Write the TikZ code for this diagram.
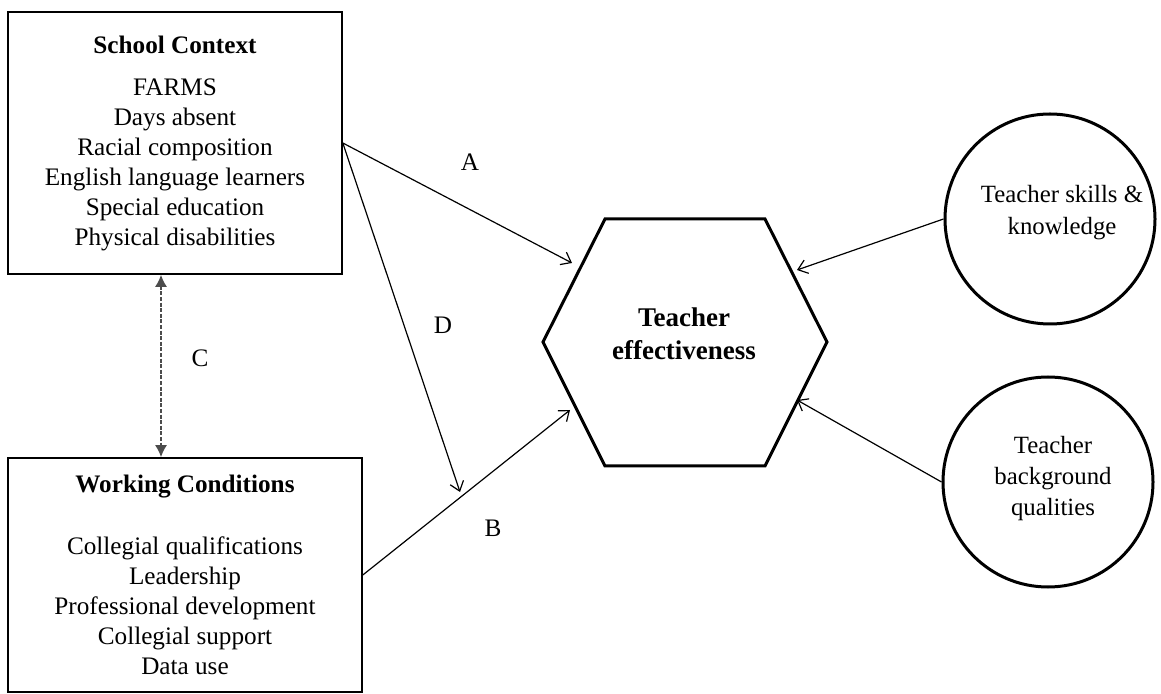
\documentclass[tikz,border=0pt]{standalone}
\usepackage{fontspec}
\setmainfont{Liberation Serif}
\usetikzlibrary{arrows.meta}

\begin{document}
\begin{tikzpicture}[x=0.5pt,y=-0.5pt,
  every node/.style={font=\fontsize{12.6}{15}\selectfont},
  box/.style={draw,line width=0.8pt,align=center,inner sep=0pt},
  circ/.style={draw,circle,line width=1.5pt,minimum size=105pt,inner sep=0pt},
  arr/.style={-{Straight Barb[length=4.5pt,width=7pt]},line width=0.6pt}]
  \useasboundingbox (0,0) rectangle (1161,694);

  % left boxes
  \node[box,minimum width=167pt,minimum height=131pt] (school) at (175,143)
    {\textbf{School Context}\\[6pt]FARMS\\Days absent\\Racial composition\\
     English language learners\\Special education\\Physical disabilities};
  \node[box,minimum width=177pt,minimum height=117pt] (work) at (185,575)
    {\textbf{Working Conditions}\\[16pt]Collegial qualifications\\Leadership\\
     Professional development\\Collegial support\\Data use};

  % hexagon
  \draw[line width=1.5pt,line join=miter] (543,342) -- (605,219) -- (765,219)
    -- (827,342) -- (765,466) -- (605,466) -- cycle;
  \node[align=center,font=\fontsize{13.5}{16.5}\selectfont\bfseries] (te) at (684,334)
    {Teacher\\effectiveness};
  \coordinate (tA) at (572,263);
  \coordinate (tB) at (570,410);
  \coordinate (tD) at (460,492);
  \coordinate (tS) at (797,270);
  \coordinate (tQ) at (797,400);

  % circles
  \node[circ] (skills) at (1050,219) {};
  \node[align=center,font=\fontsize{12.4}{16}\selectfont] (skillstxt) at (1062,213)
    {Teacher skills \&\\knowledge};
  \node[circ] (bg) at (1048,482) {};
  \node[align=center,font=\fontsize{12.4}{15.5}\selectfont] (bgtxt) at (1053,479)
    {Teacher\\background\\qualities};

  % connectors
  \draw[arr] (school.east) -- (tA);
  \draw[arr] (school.east) -- (tD);
  \draw[arr] (work.east) -- (tB);
  \draw[arr] (skills.west) -- (tS);
  \draw[arr] (bg.west) -- (tQ);
  \coordinate (cx) at (161,0);
  \draw[{Latex[length=6pt,width=6pt]}-{Latex[length=6pt,width=6pt]},
    black!70,line width=0.9pt,dash pattern=on 2pt off 0.8pt]
    (school.south -| cx) -- (work.north -| cx);

  \node (la) at (470,162) {A};
  \node (lb) at (493,528) {B};
  \node (lc) at (200,358) {C};
  \node (ld) at (443,325) {D};
\end{tikzpicture}
\end{document}
